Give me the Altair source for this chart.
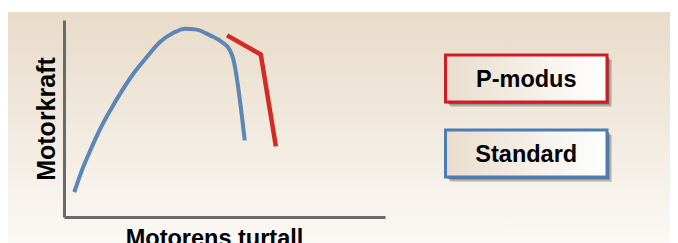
import altair as alt
import pandas as pd

# Data (abstract units: engine speed 0-100, engine force 0-100)
std_x = [3.2, 5.6, 8.2, 11.3, 14.4, 17.5, 21.6, 25.8, 29.9, 34.1, 37.7, 41.3, 45.5, 49.6, 51.7, 52.7, 56.3]
std_y = [12.6, 23.7, 33.8, 44.8, 54.1, 62.6, 72.7, 81.2, 88.8, 93.5, 95.6, 95.1, 92.2, 88.3, 84.6, 80.4, 38.9]
pm_x = [50.8, 61.3, 66.0]
pm_y = [92.2, 82.5, 35.8]
series_names = ["P-modus", "Standard"]
series_colors = ["#d42a22", "#5b86b5"]
border_colors = ["#d01c24", "#4a7db5"]
x_title = "Motorens turtall"
y_title = "Motorkraft"

W, H = 321, 197
FONT = "Liberation Sans"

df_std = pd.DataFrame({"x": std_x, "y": std_y, "series": series_names[1]})
df_std["o"] = range(len(df_std))
df_pm = pd.DataFrame({"x": pm_x, "y": pm_y, "series": series_names[0]})
df_pm["o"] = range(len(df_pm))

xs = alt.Scale(domain=[0, 100], nice=False, zero=False)
ys = alt.Scale(domain=[0, 100], nice=False, zero=False)

bg_grad = alt.Gradient(gradient="linear", x1=0, x2=0, y1=0, y2=1,
                       stops=[alt.GradientStop(color="#e8dbc9", offset=0),
                              alt.GradientStop(color="#fbf9f6", offset=1)])
background = alt.Chart(pd.DataFrame({"a": [0]})).mark_rect(fill=bg_grad).encode(
    x=alt.value(-56), x2=alt.value(W + 300), y=alt.value(-8), y2=alt.value(H + 30)
)

base_axes = alt.Chart(df_std).mark_line(opacity=0).encode(
    x=alt.X("x:Q", scale=xs, axis=alt.Axis(
        title=x_title, labels=False, ticks=False, grid=False, zindex=1,
        domainColor="#6a6a6a", domainWidth=3,
        titleFont=FONT, titleFontSize=23.5, titleFontWeight="bold", titleColor="#000000",
        titlePadding=9, titleX=150, titleAlign="center")),
    y=alt.Y("y:Q", scale=ys, axis=alt.Axis(
        title=y_title, labels=False, ticks=False, grid=False, zindex=1,
        domainColor="#6a6a6a", domainWidth=3,
        titleFont=FONT, titleFontSize=25, titleFontWeight="bold", titleColor="#000000",
        titlePadding=5)),
)

line_std = alt.Chart(df_std).mark_line(color=series_colors[1], strokeWidth=4,
                                       interpolate="monotone", strokeCap="butt").encode(
    x=alt.X("x:Q", scale=xs), y=alt.Y("y:Q", scale=ys), order="o:Q")
line_pm = alt.Chart(df_pm).mark_line(color=series_colors[0], strokeWidth=4.5,
                                     interpolate="linear", strokeCap="butt").encode(
    x=alt.X("x:Q", scale=xs), y=alt.Y("y:Q", scale=ys), order="o:Q")

box_grad = alt.Gradient(gradient="linear", x1=0, x2=1, y1=0, y2=0,
                        stops=[alt.GradientStop(color="#e9ddcd", offset=0),
                               alt.GradientStop(color="#ffffff", offset=1)])

legend_layers = []
box_x0, box_x1 = 445.5 - 64, 607 - 64
box_tops = [55 - 20, 130 - 20]
box_h = 47
one = pd.DataFrame({"a": [0]})
for name, bc, top in zip(series_names, border_colors, box_tops):
    for off, op in [(5, 0.18), (3.5, 0.35), (2, 0.45)]:
        legend_layers.append(alt.Chart(one).mark_rect(fill="#3a3a3a", opacity=op).encode(
            x=alt.value(box_x0 + off), x2=alt.value(box_x1 + off),
            y=alt.value(top + off), y2=alt.value(top + box_h + off)))
    legend_layers.append(alt.Chart(one).mark_rect(fill=box_grad, stroke=bc, strokeWidth=3).encode(
        x=alt.value(box_x0), x2=alt.value(box_x1), y=alt.value(top), y2=alt.value(top + box_h)))
    legend_layers.append(alt.Chart(pd.DataFrame({"label": [name]})).mark_text(
        font=FONT, fontSize=23.5, fontWeight="bold", color="#000000",
        align="center", baseline="middle").encode(
        x=alt.value((box_x0 + box_x1) / 2), y=alt.value(top + box_h / 2 + 1), text="label:N"))

chart = alt.layer(background, base_axes, line_std, line_pm, *legend_layers).properties(
    width=W, height=H,
    autosize=alt.AutoSizeParams(type="none"),
    padding={"left": 56, "top": 12, "right": 285, "bottom": 26},
).configure_view(stroke=None).configure(background="#ffffff")

chart.save("out.html", embed_options={"renderer": "svg", "actions": False})
